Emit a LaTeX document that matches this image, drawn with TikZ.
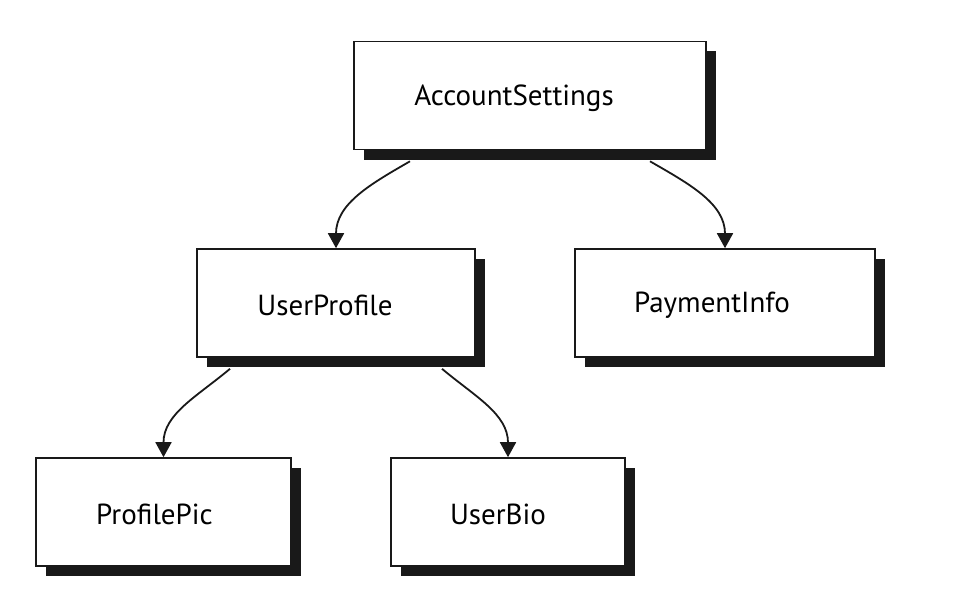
\documentclass[tikz,border=0pt]{standalone}
\usepackage{fontspec}
\setmainfont{PT Sans}
\usepackage{tikz}
\usetikzlibrary{arrows.meta, shadows}

\begin{document}
\begin{tikzpicture}[x=1pt,y=-1pt,thick,line width=1.8pt]
		\tikzstyle{box}=[draw=black!90,fill=white,line width=1.6pt,minimum height=108pt,
			drop shadow={shadow xshift=10pt,shadow yshift=-10pt,fill=black!90,opacity=1}]
		\tikzstyle{boxtext}=[font=\fontsize{29}{32}\selectfont,inner sep=0pt,yshift=-2.5pt]
		\tikzstyle{edge}=[draw=black!90,-{Triangle[length=15pt,width=16pt]}]
		\useasboundingbox (0,0) rectangle (980,610);

		\node[box,minimum width=352pt,label={[boxtext,name=accl,xshift=-16pt]center:AccountSettings}] (acc) at (530,95.5) {};
		\node[box,minimum width=278pt,label={[boxtext,name=profl,xshift=-11pt]center:UserProfile}] (prof) at (336,303) {};
		\node[box,minimum width=300pt,label={[boxtext,name=payl,xshift=-13pt]center:PaymentInfo}] (pay) at (725,303) {};
		\node[box,minimum width=255pt,label={[boxtext,name=picl,xshift=-9pt]center:ProfilePic}] (pic) at (163.5,512) {};
		\node[box,minimum width=234pt,label={[boxtext,name=biol,xshift=-10pt]center:UserBio}] (bio) at (508,512) {};

		\path
		([xshift=-120pt,yshift=-11pt]acc.south) edge [edge,out=-150,in=90] (prof.north)
		([xshift=120pt,yshift=-11pt]acc.south) edge [edge,out=-30,in=90] (pay.north)
		([xshift=-106pt,yshift=-11pt]prof.south) edge [edge,out=-140,in=90] (pic.north)
		([xshift=106pt,yshift=-11pt]prof.south) edge [edge,out=-40,in=90] (bio.north);

	\end{tikzpicture}
\end{document}
